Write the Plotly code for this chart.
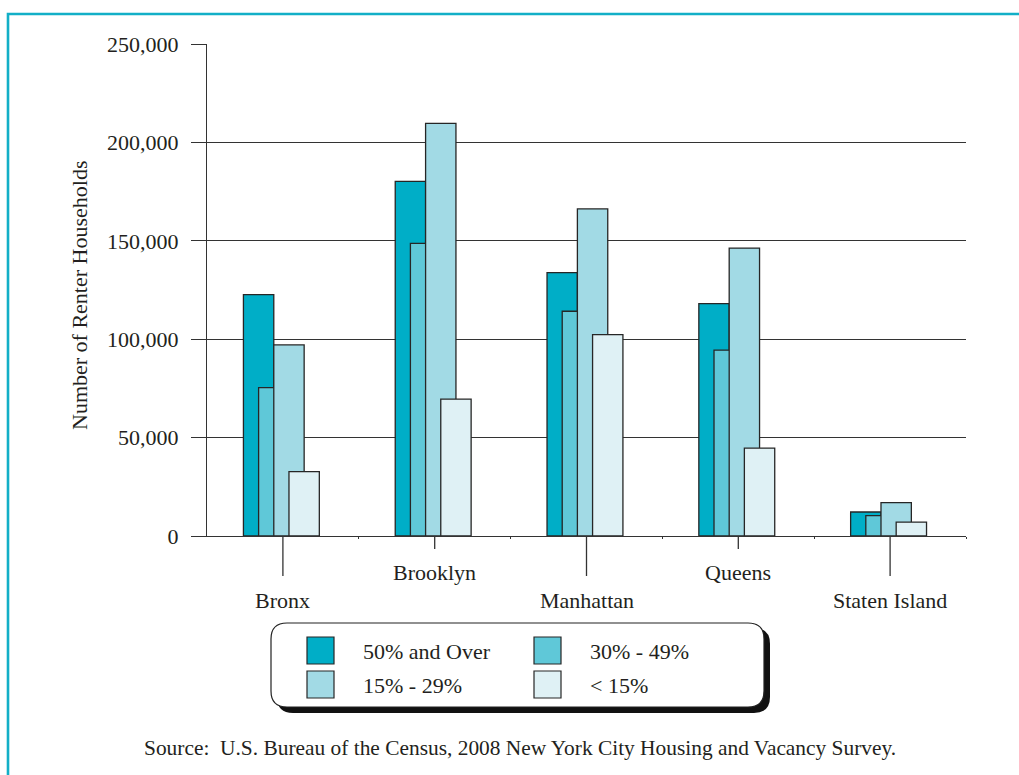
import plotly.graph_objects as go

# Canvas and plot-area geometry (pixels)
W, H = 1019, 775
ML, MR, MT, MB = 207, 53, 44, 239
PW, PH = W - ML - MR, H - MT - MB

boroughs = ["Bronx", "Brooklyn", "Manhattan", "Queens", "Staten Island"]
series_names = ["50% and Over", "30% - 49%", "15% - 29%", "< 15%"]
rent_50_plus = [122700, 180200, 133800, 118100, 12200]
rent_30_49 = [75400, 148700, 114200, 94400, 10400]
rent_15_29 = [97100, 209700, 166200, 146300, 17000]
rent_under_15 = [32700, 69600, 102300, 44700, 7100]
series_values = [rent_50_plus, rent_30_49, rent_15_29, rent_under_15]
series_colors = ["#00AEC7", "#5FC8D8", "#A2DAE5", "#DFF1F5"]
y_tick_vals = [0, 50000, 100000, 150000, 200000, 250000]
y_tick_text = ["0", "50,000", "100,000", "150,000", "200,000", "250,000"]
source_note = "Source:  U.S. Bureau of the Census, 2008 New York City Housing and Vacancy Survey."
y_title = "Number of Renter Households"

FONT = "Liberation Serif"
INK = "#231F20"
LINE = "#333333"
FS = 22


def px_x(p):
    return (p - ML) / PW


def px_y(p):
    return (MT + PH - p) / PH


fig = go.Figure()

# Overlapping bars: each series stepped half a bar width to the right
bar_w = 0.2
positions = list(range(len(boroughs)))
for k, (name, vals, col) in enumerate(zip(series_names, series_values, series_colors)):
    fig.add_trace(go.Bar(
        x=positions, y=vals, name=name,
        width=bar_w, offset=-0.26 + 0.1 * k,
        marker=dict(color=col, line=dict(color="#262626", width=1.3)),
        showlegend=False,
    ))

shapes = []
annotations = []

# Category tick lines (alternating long/short) and labels
for i, b in enumerate(boroughs):
    long_tick = i % 2 == 0
    tick_len = 40 if long_tick else 13
    shapes.append(dict(type="line", xref="x", yref="paper",
                       x0=i, x1=i, y0=0, y1=-tick_len / PH,
                       line=dict(color=LINE, width=1.3)))
    annotations.append(dict(text=b, xref="x", yref="paper", x=i,
                            y=px_y(600 if long_tick else 572),
                            showarrow=False, xanchor="center", yanchor="middle",
                            font=dict(family=FONT, size=FS, color=INK)))

# Y-axis title
annotations.append(dict(text=y_title, xref="paper", yref="paper",
                        x=px_x(79), y=px_y(296), textangle=-90,
                        showarrow=False, xanchor="center", yanchor="middle",
                        font=dict(family=FONT, size=FS, color=INK)))

# Source note
annotations.append(dict(text=source_note, xref="paper", yref="paper",
                        x=px_x(520), y=px_y(748), showarrow=False,
                        xanchor="center", yanchor="middle",
                        font=dict(family=FONT, size=21.4, color=INK)))


def rounded_rect(x0, y0, x1, y1, r):
    # path in paper coordinates built from pixel corners
    pts = [
        f"M {px_x(x0 + r)},{px_y(y0)}",
        f"L {px_x(x1 - r)},{px_y(y0)}",
        f"Q {px_x(x1)},{px_y(y0)} {px_x(x1)},{px_y(y0 + r)}",
        f"L {px_x(x1)},{px_y(y1 - r)}",
        f"Q {px_x(x1)},{px_y(y1)} {px_x(x1 - r)},{px_y(y1)}",
        f"L {px_x(x0 + r)},{px_y(y1)}",
        f"Q {px_x(x0)},{px_y(y1)} {px_x(x0)},{px_y(y1 - r)}",
        f"L {px_x(x0)},{px_y(y0 + r)}",
        f"Q {px_x(x0)},{px_y(y0)} {px_x(x0 + r)},{px_y(y0)}",
        "Z",
    ]
    return " ".join(pts)


# Legend box with drop shadow
shapes.append(dict(type="path", xref="paper", yref="paper",
                   path=rounded_rect(277, 628, 770, 713, 16),
                   fillcolor="#111111", line=dict(width=0)))
shapes.append(dict(type="path", xref="paper", yref="paper",
                   path=rounded_rect(271, 623, 764, 707, 16),
                   fillcolor="white", line=dict(color="#222222", width=1.2)))

# Legend entries: two columns, two rows
legend_cols = [307, 534]
legend_rows = [637, 671]
for k, (name, col) in enumerate(zip(series_names, series_colors)):
    cx = legend_cols[k % 2]
    cy = legend_rows[k // 2]
    shapes.append(dict(type="rect", xref="paper", yref="paper",
                       x0=px_x(cx), x1=px_x(cx + 27), y0=px_y(cy), y1=px_y(cy + 27),
                       fillcolor=col, line=dict(color="#262626", width=1.2)))
    annotations.append(dict(text=name, xref="paper", yref="paper",
                            x=px_x(cx + 54), y=px_y(cy + 14), showarrow=False,
                            xanchor="left", yanchor="middle",
                            font=dict(family=FONT, size=FS, color=INK)))

# Outer cyan frame
shapes.append(dict(type="rect", xref="paper", yref="paper", layer="above",
                   x0=px_x(8), x1=px_x(1040), y0=px_y(14), y1=px_y(800),
                   line=dict(color="#12AFC7", width=2.6)))

fig.update_layout(
    width=W, height=H,
    margin=dict(l=ML, r=MR, t=MT, b=MB),
    paper_bgcolor="white", plot_bgcolor="white",
    barmode="overlay",
    font=dict(family=FONT, color=INK, size=FS),
    shapes=shapes, annotations=annotations,
    showlegend=False,
    xaxis=dict(range=[-0.5, len(boroughs) - 0.5],
               tickvals=[i + 0.5 for i in range(len(boroughs))],
               showticklabels=False, ticks="outside", ticklen=2,
               tickcolor=LINE, tickwidth=1.3,
               showgrid=False, zeroline=False,
               showline=True, linecolor=LINE, linewidth=1.3),
    yaxis=dict(range=[0, 250000], tickvals=y_tick_vals, ticktext=y_tick_text,
               ticks="outside", ticklen=15, tickcolor=LINE, tickwidth=1.3,
               ticklabelstandoff=8,
               tickfont=dict(family=FONT, size=FS, color=INK),
               showgrid=True, gridcolor=LINE, gridwidth=1.3,
               zeroline=False, showline=True, linecolor=LINE, linewidth=1.3),
)

fig.write_html("out.html")
